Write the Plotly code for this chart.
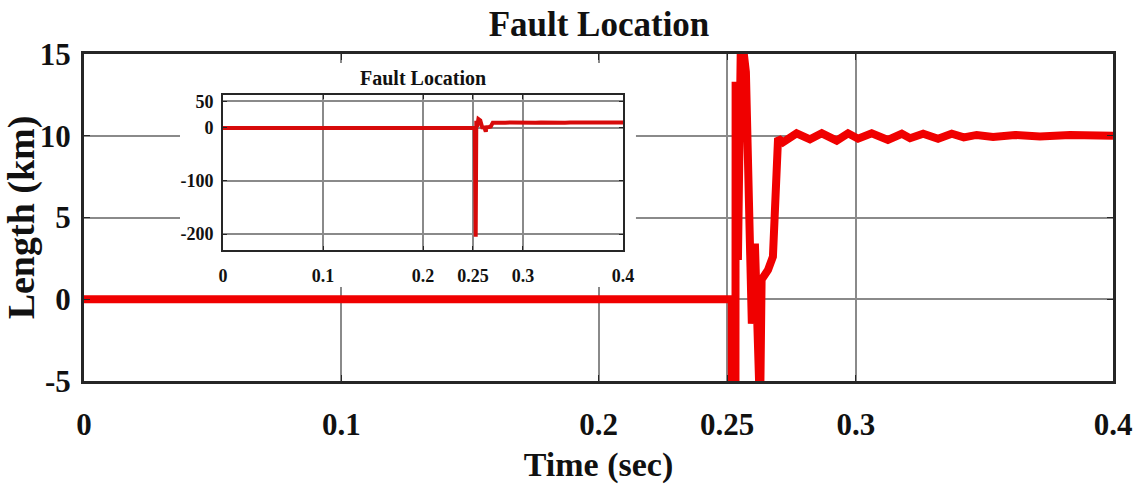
import plotly.graph_objects as go

# Fault location estimate (km) versus simulation time (s)
time_s = [0.0, 0.2518, 0.2527, 0.2533, 0.2542, 0.2554, 0.2573, 0.2596, 0.2608,
          0.2628, 0.2634, 0.2659, 0.2678, 0.2698, 0.2717, 0.2770, 0.2822, 0.2868,
          0.2926, 0.2970, 0.3009, 0.3062, 0.3125, 0.3179, 0.3211, 0.3262, 0.3320,
          0.3373, 0.3420, 0.3470, 0.3534, 0.3619, 0.3716, 0.3833, 0.4000]
length_km = [0.0, 0.0, -205.0, 13.3, 2.4, 16.5, 13.9, -1.5, 3.4,
             -7.0, 1.2, 1.8, 2.6, 9.85, 9.6, 10.15, 9.78, 10.15,
             9.7, 10.15, 9.82, 10.15, 9.75, 10.12, 9.85, 10.12, 9.82,
             10.12, 9.9, 10.05, 9.92, 10.05, 9.95, 10.05, 10.0]

x_ticks = [0, 0.1, 0.2, 0.25, 0.3, 0.4]
x_tick_text = ["0", "0.1", "0.2", "0.25", "0.3", "0.4"]
y_ticks_main = [-5, 0, 5, 10, 15]
y_tick_text_main = ["-5", "0", "5", "10", "15"]
y_ticks_inset = [-200, -100, 0, 50]
y_tick_text_inset = ["-200", "-100", "0", "50"]

FONT = "Liberation Serif"
FRAME = "#262626"
GRID = "#8a8a8a"

fig = go.Figure()

# main view (zoomed to -5..15 km)
fig.add_trace(go.Scatter(x=time_s, y=length_km, mode="lines",
                         line=dict(color="rgb(240,0,0)", width=8),
                         showlegend=False, hoverinfo="skip"))
# blank white panel behind the inset and its labels
fig.add_trace(go.Scatter(x=[], y=[], xaxis="x2", yaxis="y2",
                         showlegend=False, hoverinfo="skip"))
# inset: full range of the estimate
fig.add_trace(go.Scatter(x=time_s, y=length_km, xaxis="x3", yaxis="y3",
                         mode="lines", line=dict(color="rgb(215,10,10)", width=4),
                         showlegend=False, hoverinfo="skip"))

axis_common = dict(showline=True, linecolor=FRAME, mirror="ticks",
                   ticks="inside", tickcolor=FRAME, zeroline=False,
                   showgrid=True, gridcolor=GRID, automargin=False)

fig.update_layout(
    width=1139, height=484,
    margin=dict(l=84, r=26, t=54, b=103),
    paper_bgcolor="white", plot_bgcolor="white",
    title=dict(text="<b>Fault Location</b>", x=599 / 1139, xanchor="center",
               y=1 - 24 / 484, yref="container", yanchor="middle",
               font=dict(family=FONT, size=35, color="#111")),
    xaxis=dict(**axis_common, range=[0, 0.4], tickvals=x_ticks, ticktext=x_tick_text,
               linewidth=3, ticklen=6, gridwidth=2,
               tickfont=dict(family=FONT, size=31, color="#111", weight="bold"),
               ticklabelstandoff=14,
               title=dict(text="<b>Time (sec)</b>", standoff=14,
                          font=dict(family=FONT, size=34, color="#111"))),
    yaxis=dict(**axis_common, range=[-5, 15], tickvals=y_ticks_main,
               ticktext=y_tick_text_main,
               linewidth=3, ticklen=6, gridwidth=2,
               tickfont=dict(family=FONT, size=31, color="#111", weight="bold"),
               ticklabelstandoff=4,
               title=dict(text="<b>Length (km)</b>", standoff=2,
                          font=dict(family=FONT, size=38, color="#111"))),
    xaxis2=dict(domain=[0.0933, 0.5364], anchor="y2", range=[0, 1],
                showline=False, showgrid=False, zeroline=False,
                showticklabels=False, ticks="", automargin=False),
    yaxis2=dict(domain=[0.2875, 0.9725], anchor="x2", range=[0, 1],
                showline=False, showgrid=False, zeroline=False,
                showticklabels=False, ticks="", automargin=False),
    xaxis3=dict(**axis_common, domain=[0.1351, 0.5238], anchor="y3",
                range=[0, 0.4], tickvals=x_ticks, ticktext=x_tick_text,
                linewidth=2, ticklen=4, gridwidth=1.5,
                tickfont=dict(family=FONT, size=18, color="#111", weight="bold"),
                ticklabelstandoff=8),
    yaxis3=dict(**axis_common, domain=[0.4006, 0.8746], anchor="x3",
                range=[-230, 62], tickvals=y_ticks_inset, ticktext=y_tick_text_inset,
                linewidth=2, ticklen=4, gridwidth=1.5,
                tickfont=dict(family=FONT, size=18, color="#111", weight="bold"),
                ticklabelstandoff=4),
    annotations=[dict(text="<b>Fault Location</b>", xref="x3 domain", yref="y3 domain",
                      x=0.5, y=1.0, xanchor="center", yanchor="bottom", yshift=4,
                      showarrow=False, font=dict(family=FONT, size=20, color="#111"))],
)

fig.write_html("out.html")
